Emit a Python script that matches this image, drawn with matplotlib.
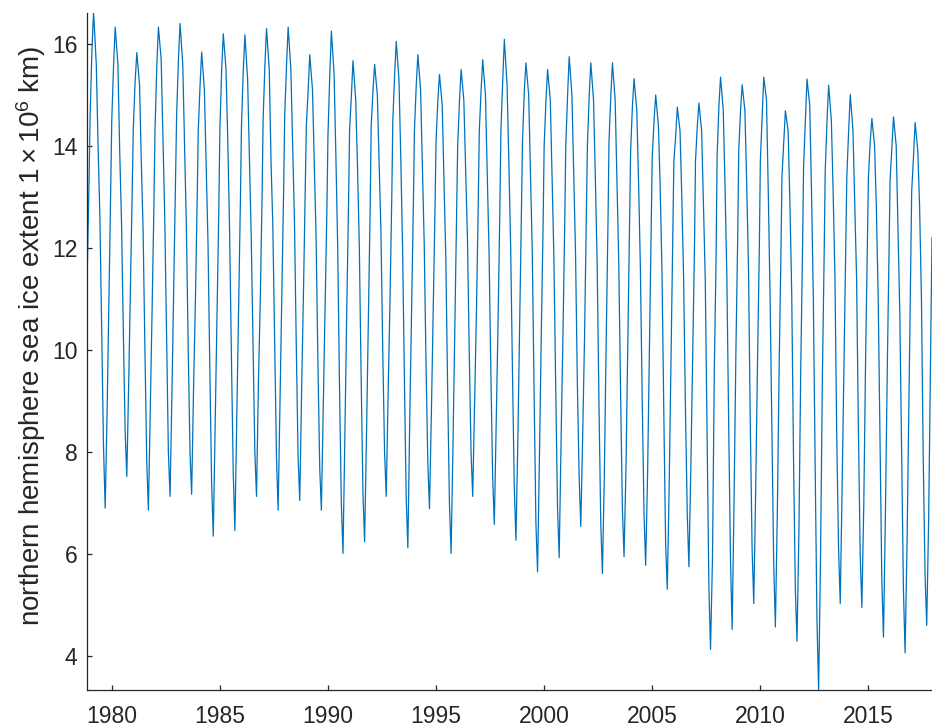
import matplotlib
matplotlib.use("Agg")
import matplotlib.pyplot as plt
import numpy as np

# years with a full seasonal cycle
years = list(range(1979, 2018))

# annual daily maximum and minimum extent (1e6 km^2)
ext_max = [16.63, 16.33, 15.83, 16.33, 16.40, 15.84, 16.20, 16.18, 16.30, 16.33,
           15.79, 16.25, 15.67, 15.60, 16.05, 15.79, 15.40, 15.50, 15.69, 16.09,
           15.63, 15.50, 15.75, 15.63, 15.63, 15.32, 15.00, 14.76, 14.84, 15.35,
           15.20, 15.35, 14.69, 15.31, 15.19, 15.01, 14.54, 14.57, 14.46]
ext_min = [6.90, 7.52, 6.86, 7.13, 7.17, 6.35, 6.46, 7.13, 6.86, 7.05,
           6.86, 6.01, 6.24, 7.13, 6.12, 6.89, 6.01, 7.13, 6.58, 6.27,
           5.65, 5.93, 6.54, 5.62, 5.95, 5.78, 5.31, 5.75, 4.13, 4.52,
           5.03, 4.57, 4.29, 3.34, 5.03, 4.95, 4.37, 4.06, 4.60]

# estimated extent at fixed dates within each year
ext_jan1 = [14.6, 14.5, 14.4, 14.3, 14.6, 14.3, 14.3, 14.4, 14.5, 14.6,
            14.4, 14.2, 14.3, 14.4, 14.5, 14.3, 14.1, 14.0, 14.3, 14.3,
            14.1, 14.0, 14.0, 14.0, 14.1, 13.9, 13.8, 13.7, 13.7, 13.8,
            13.9, 13.7, 13.4, 13.6, 13.5, 13.4, 13.4, 13.3, 13.1]
ext_feb1 = [15.9, 15.6, 15.3, 15.6, 15.7, 15.2, 15.5, 15.5, 15.6, 15.6,
            15.1, 15.4, 15.0, 15.1, 15.4, 15.2, 14.9, 14.9, 15.1, 15.3,
            15.1, 14.9, 15.0, 15.0, 15.0, 14.8, 14.5, 14.2, 14.4, 14.8,
            14.7, 14.6, 14.1, 14.5, 14.5, 14.3, 14.1, 14.0, 13.8]
ext_apr15 = [15.6, 15.6, 15.2, 15.7, 15.6, 15.1, 15.5, 15.3, 15.5, 15.5,
             15.1, 15.4, 14.9, 15.0, 15.3, 15.1, 14.8, 14.9, 15.0, 15.2,
             15.0, 14.9, 15.0, 14.9, 14.9, 14.7, 14.4, 14.3, 14.3, 14.7,
             14.7, 14.9, 14.3, 14.8, 14.5, 14.3, 14.0, 14.0, 13.9]
ext_may15 = [14.0, 13.9, 13.7, 14.2, 14.0, 13.6, 14.1, 13.8, 13.7, 14.0,
             13.7, 13.8, 13.6, 13.7, 13.8, 13.6, 13.3, 13.6, 13.5, 13.7,
             13.5, 13.4, 13.5, 13.4, 13.3, 13.3, 13.2, 13.0, 12.9, 13.2,
             13.3, 13.1, 12.9, 13.1, 13.1, 12.9, 12.8, 12.4, 12.8]
ext_jun15 = [12.6, 12.5, 12.3, 12.6, 12.4, 12.1, 12.3, 12.2, 12.4, 12.5,
             12.2, 12.0, 12.0, 12.3, 12.0, 12.1, 11.8, 12.2, 11.9, 12.0,
             11.9, 11.8, 11.9, 11.7, 11.7, 11.6, 11.5, 11.4, 11.4, 11.4,
             11.6, 11.0, 11.1, 11.0, 11.4, 11.4, 11.0, 10.7, 11.0]
ext_jul15 = [10.4, 10.4, 10.0, 10.3, 10.1, 9.7, 9.9, 10.1, 10.2, 10.1,
             9.8, 9.3, 9.5, 10.0, 9.5, 9.8, 9.3, 10.0, 9.6, 9.6,
             9.2, 9.3, 9.4, 9.0, 9.2, 9.1, 8.8, 8.9, 8.4, 8.6,
             8.6, 8.4, 7.9, 7.8, 8.3, 8.5, 8.3, 8.1, 7.9]
ext_aug15 = [8.1, 8.4, 7.8, 8.0, 8.0, 7.4, 7.6, 8.0, 7.9, 7.9,
             7.7, 7.0, 7.2, 8.0, 7.1, 7.8, 7.0, 8.0, 7.5, 7.3,
             6.6, 6.9, 7.5, 6.6, 6.9, 6.8, 6.2, 6.8, 5.4, 5.9,
             6.1, 5.8, 5.3, 4.7, 6.1, 6.0, 5.5, 5.3, 5.6]
ext_oct15 = [8.8, 9.4, 8.9, 9.2, 9.3, 8.6, 8.7, 9.4, 9.1, 9.3,
             8.9, 8.4, 8.4, 9.2, 8.7, 8.8, 8.2, 9.0, 8.7, 8.3,
             8.0, 8.3, 8.4, 7.6, 7.7, 7.6, 7.4, 7.7, 5.9, 7.1,
             7.3, 6.8, 6.5, 6.0, 7.4, 7.0, 6.8, 6.2, 6.7]
ext_nov15 = [11.0, 11.4, 10.9, 11.3, 11.0, 10.7, 10.9, 11.0, 11.3, 11.2,
             10.9, 10.8, 10.7, 11.0, 10.8, 10.8, 10.5, 10.8, 10.6, 10.6,
             10.4, 10.3, 10.3, 10.2, 10.1, 10.1, 9.9, 9.9, 9.6, 10.0,
             9.8, 9.7, 9.7, 9.5, 9.8, 9.9, 9.6, 8.9, 9.8]
ext_dec15 = [13.2, 13.3, 12.9, 13.3, 13.0, 12.8, 13.0, 13.0, 13.2, 13.2,
             12.8, 12.9, 12.8, 13.0, 12.9, 12.8, 12.7, 12.9, 12.8, 12.7,
             12.5, 12.5, 12.6, 12.5, 12.3, 12.4, 12.2, 12.0, 11.8, 12.2,
             12.0, 11.9, 12.0, 11.9, 12.0, 12.1, 11.9, 11.5]

# record starts 26 Oct 1978 and the plotted span ends early Dec 2017
start_days = [299, 318, 348]
start_vals = [10.3, 11.6, 13.4]
end_day = 343
end_val = 12.2

# day of year for each column above
node_days = [0, 31, 58, 104, 134, 165, 195, 226, 254, 287, 318, 348]

t, v = [], []
for d, val in zip(start_days, start_vals):
    t.append(1978 + d / 365.25)
    v.append(val)
for i, yr in enumerate(years):
    row = [ext_jan1[i], ext_feb1[i], ext_max[i], ext_apr15[i], ext_may15[i],
           ext_jun15[i], ext_jul15[i], ext_aug15[i], ext_min[i], ext_oct15[i],
           ext_nov15[i]]
    if i < len(ext_dec15):
        row.append(ext_dec15[i])
    for d, val in zip(node_days, row):
        t.append(yr + d / 365.25)
        v.append(val)
t.append(2017 + end_day / 365.25)
v.append(end_val)

axis_col = "#262626"
plt.rcParams["font.family"] = ["Liberation Sans", "DejaVu Sans"]
plt.rcParams["mathtext.fontset"] = "custom"
plt.rcParams["mathtext.rm"] = "Liberation Sans"
plt.rcParams["mathtext.it"] = "Liberation Sans:italic"

fig = plt.figure(figsize=(9.32, 7.28), dpi=100)
ax = fig.add_axes([0.0937, 0.0526, 0.9063, 0.9291])
ax.plot(t, v, color="#0072BD", lw=0.9)

ax.set_xlim(1978.87, 2017.94)
ax.set_ylim(3.34, 16.6)
ax.set_xticks(range(1980, 2016, 5))
ax.set_yticks(range(4, 17, 2))
ax.spines["top"].set_visible(False)
ax.spines["right"].set_visible(False)
for s in ("left", "bottom"):
    ax.spines[s].set_color(axis_col)
    ax.spines[s].set_linewidth(0.9)
ax.tick_params(axis="both", direction="in", length=3.5, width=0.9,
               colors=axis_col, labelsize=16.5)
ax.tick_params(axis="x", pad=11)
ax.tick_params(axis="y", pad=7)
ax.set_ylabel(r"northern hemisphere sea ice extent $\mathrm{1\times10^{6}}$ km)",
              fontsize=20, color=axis_col)
ax.yaxis.set_label_coords(-0.046, 0.523)

fig.savefig("out.png", dpi=100)
